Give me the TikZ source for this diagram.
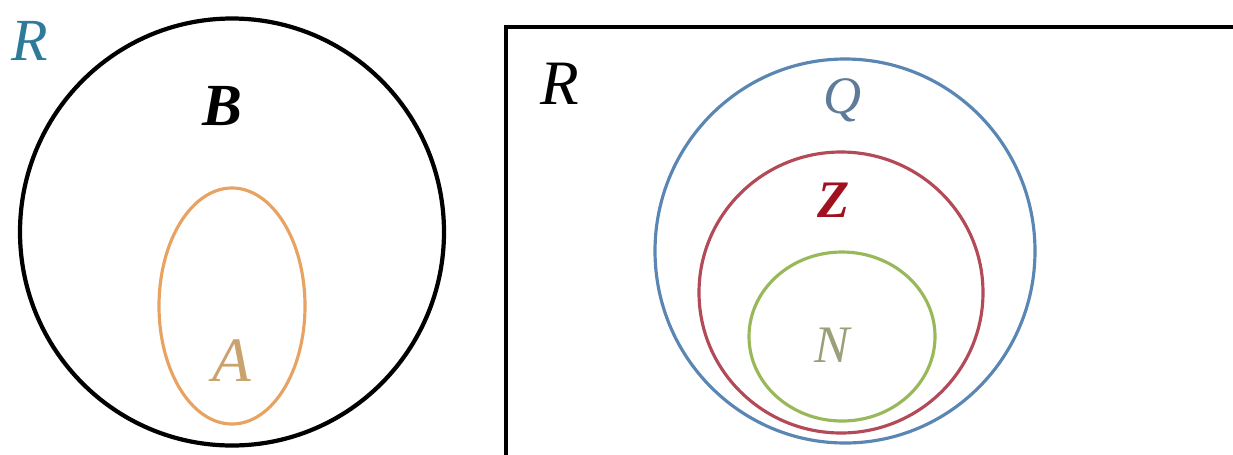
\documentclass[tikz,border=0pt]{standalone}
\usepackage{fontspec}
\setmainfont{Liberation Serif}
\usepackage{tikz}

\definecolor{tealR}{HTML}{2E7A9A}
\definecolor{setA}{HTML}{E8A262}
\definecolor{txtA}{HTML}{C9A26E}
\definecolor{setQ}{HTML}{5A86B4}
\definecolor{txtQ}{HTML}{5E7C9A}
\definecolor{setZ}{HTML}{B24A58}
\definecolor{txtZ}{HTML}{A0101E}
\definecolor{setN}{HTML}{98B85A}
\definecolor{txtN}{HTML}{9CA07A}

\begin{document}
\begin{tikzpicture}[x=0.02cm,y=-0.02cm]
  \useasboundingbox (0,0) rectangle (1233,454);
  \clip (0,0) rectangle (1233,454);
  % left: A inside B
  \draw[line width=2.4pt] (232,232) ellipse (212 and 213.5);
  \draw[setA,line width=1.8pt] (232,306) ellipse (73 and 118);
  \node[font=\fontsize{34}{40}\selectfont\itshape,text=tealR] (rL) at (30,41) {R};
  \node[font=\fontsize{34}{40}\selectfont\itshape\bfseries] (b) at (222,106) {B};
  \node[font=\fontsize{36}{42}\selectfont\itshape,text=txtA] (a) at (232,361) {A};
  % right: N inside Z inside Q inside R
  \draw[line width=2.8pt] (506,460) -- (506,27) -- (1240,27);
  \draw[setQ,line width=1.8pt] (845,251) ellipse (190 and 192);
  \draw[setZ,line width=1.8pt] (841,292.5) ellipse (142 and 140.5);
  \draw[setN,line width=1.8pt] (842,336.5) ellipse (93 and 84.5);
  \node[font=\fontsize{36}{42}\selectfont\itshape] (rR) at (560,84) {R};
  \node[font=\fontsize{30}{36}\selectfont\itshape,text=txtQ] (q) at (843,100) {Q};
  \node[font=\fontsize{30}{36}\selectfont\itshape\bfseries,text=txtZ] (z) at (834,200) {Z};
  \node[font=\fontsize{30}{36}\selectfont\itshape,text=txtN] (n) at (832,345) {N};
\end{tikzpicture}
\end{document}
